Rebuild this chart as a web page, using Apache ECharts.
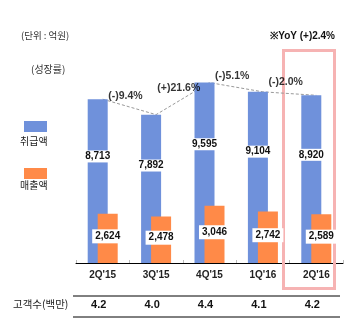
<!DOCTYPE html>
<html><head><meta charset="utf-8">
<script src="https://cdn.jsdelivr.net/npm/echarts@6/dist/echarts.min.js"></script>
<style>html,body{margin:0;padding:0;background:#fff}#c{width:362px;height:325px}</style>
</head><body><div id="c"></div>
<script>
const categories = ["2Q'15", "3Q'15", "4Q'15", "1Q'16", "2Q'16"];
const handled = [8713, 7892, 9595, 9104, 8920];      // 취급액
const sales = [2624, 2478, 3046, 2742, 2589];        // 매출액
const growth = ['(-)9.4%', '(+)21.6%', '(-)5.1%', '(-)2.0%'];
const customers = ['4.2', '4.0', '4.4', '4.1', '4.2'];

const BLUE = '#6f91db', ORANGE = '#ff8a48';
const NUM = "'Liberation Sans', Arial, sans-serif";
const KR = "'Noto Sans CJK KR', sans-serif";

const growthPts = growth.map((g, i) => [i + 1, (handled[i] + handled[i + 1]) / 2]);

const chart = echarts.init(document.getElementById('c'));
chart.setOption({
  animation: false,
  backgroundColor: '#fff',
  grid: { left: 76, right: 19, top: 75, bottom: 62 },
  xAxis: [
    { type: 'category', data: categories,
      axisLine: { lineStyle: { color: '#000', width: 1 } },
      axisTick: { show: true, inside: true, length: 3, lineStyle: { color: '#bbb' } },
      axisLabel: { fontFamily: NUM, fontWeight: 'bold', fontSize: 10, color: '#222', margin: 7 } },
    { type: 'category', data: customers, position: 'bottom', offset: 28,
      axisLine: { show: false }, axisTick: { show: false },
      axisLabel: { fontFamily: NUM, fontWeight: 'bold', fontSize: 11, color: '#111', margin: 8, padding: [0, 8, 0, 0] } },
    { type: 'value', min: 0, max: 5, show: false }
  ],
  yAxis: { type: 'value', min: 0, max: 10000, show: false },
  series: [
    { type: 'line', xAxisIndex: 0, data: handled, z: 1, symbol: 'none',
      lineStyle: { color: '#999', width: 1, type: [3, 2] } },
    { type: 'bar', name: '취급액', xAxisIndex: 0, data: handled, barWidth: 20, barGap: '-50%', z: 2,
      itemStyle: { color: BLUE },
      label: { show: true, position: 'inside', formatter: p => p.value.toLocaleString('en-US'),
        fontFamily: NUM, fontWeight: 'bold', fontSize: 10, color: '#111',
        backgroundColor: '#fff', padding: [1, 3] },
      labelLayout: p => {
        const r = p.rect;
        const frac = sales[p.dataIndex] / handled[p.dataIndex];
        return { x: r.x + r.width / 2, y: r.y + (r.height * (1 - frac)) / 2, align: 'center', verticalAlign: 'middle' };
      } },
    { type: 'bar', name: '매출액', xAxisIndex: 0, data: sales, barWidth: 20, z: 3,
      itemStyle: { color: ORANGE },
      label: { show: true, position: 'inside', offset: [0, -2], formatter: p => p.value.toLocaleString('en-US'),
        fontFamily: NUM, fontWeight: 'bold', fontSize: 10, color: '#111',
        backgroundColor: '#fff', padding: [2, 3] } },
    { type: 'scatter', xAxisIndex: 2, data: growthPts, symbolSize: 1, z: 100,
      itemStyle: { color: 'rgba(0,0,0,0)' },
      label: { show: true, position: 'top', distance: 5, offset: [-4, 0],
        formatter: p => growth[p.dataIndex],
        fontFamily: NUM, fontWeight: 'bold', fontSize: 10.5, color: '#000' } }
  ],
  graphic: [
    { type: 'text', left: 21, top: 31, style: { text: '(단위 : 억원)', font: '9.5px ' + KR, fill: '#333' } },
    { type: 'text', left: 31, top: 64, style: { text: '(성장률)', font: '10px ' + KR, fill: '#333' } },
    { type: 'text', right: 27, top: 31, style: { text: '※YoY (+)2.4%', font: 'bold 10px ' + NUM, fill: '#111' } },
    { type: 'rect', shape: { x: 24, y: 121, width: 23, height: 11 }, style: { fill: BLUE } },
    { type: 'text', left: 20, top: 136, style: { text: '취급액', font: '10px ' + KR, fill: '#222' } },
    { type: 'rect', shape: { x: 24, y: 168, width: 23, height: 11 }, style: { fill: ORANGE } },
    { type: 'text', left: 20, top: 180, style: { text: '매출액', font: '10px ' + KR, fill: '#222' } },
    { type: 'text', left: 13, top: 299, style: { text: '고객수(백만)', font: '10.5px ' + KR, fill: '#222' } },
    { type: 'line', shape: { x1: 73, y1: 296, x2: 340, y2: 296 }, style: { stroke: '#000', lineWidth: 1 } },
    { type: 'line', shape: { x1: 73, y1: 317, x2: 340, y2: 317 }, style: { stroke: '#000', lineWidth: 1 } },
    { type: 'rect', z: 1, shape: { x: 283.5, y: 50.5, width: 51, height: 238 },
      style: { fill: 'none', stroke: '#f6b3b3', lineWidth: 3 } }
  ]
});
</script></body></html>
